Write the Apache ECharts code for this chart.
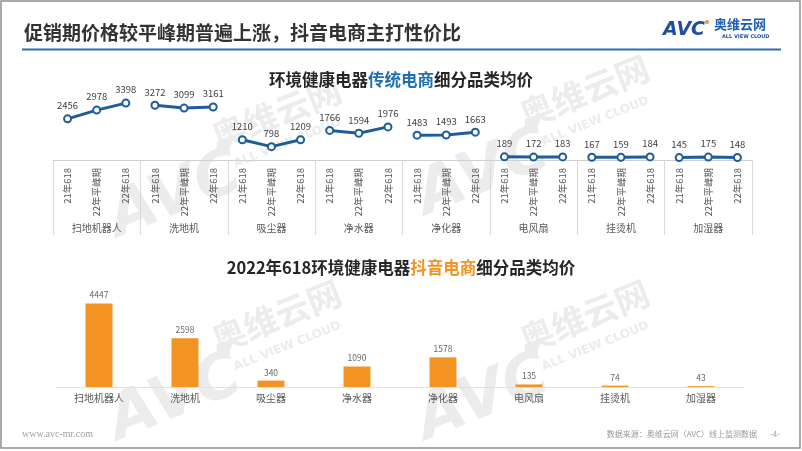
<!DOCTYPE html>
<html>
<head>
<meta charset="utf-8">
<script src="https://cdn.jsdelivr.net/npm/echarts@6/dist/echarts.min.js"></script>
<style>
html,body{margin:0;padding:0;background:#fff;}
#c{width:802px;height:451px;}
</style>
</head>
<body>
<div id="c"></div>
<script>
const groups = ['扫地机器人','洗地机','吸尘器','净水器','净化器','电风扇','挂烫机','加湿器'];
const periods = ['21年618','22年平峰期','22年618'];
const tradValues = [
  [2456,2978,3398],
  [3272,3099,3161],
  [1210,798,1209],
  [1766,1594,1976],
  [1483,1493,1663],
  [189,172,183],
  [167,159,184],
  [145,175,148]
];
const douyinValues = [4447,2598,340,1090,1578,135,74,43];

const FONT = '"Noto Sans CJK SC","Noto Sans",sans-serif';
const BLUE = '#1f5c9a';
const ORANGE = '#f39422';

const periodCats = [];
groups.forEach(() => periods.forEach(p => periodCats.push(p)));

const lineSeries = tradValues.map((vals, g) => ({
  type: 'line',
  xAxisIndex: 0, yAxisIndex: 0,
  data: vals.map((v, i) => [g * periods.length + i, v]),
  symbol: 'emptyCircle',
  symbolSize: 7,
  lineStyle: {color: BLUE, width: 3},
  itemStyle: {color: BLUE, borderWidth: 2},
  label: {show: true, position: 'top', distance: 4, color: '#404040', fontSize: 9.5, fontFamily: FONT},
  z: 3
}));

function watermark(x, y) {
  const c = '#ececec';
  return {
    type: 'group', x: x, y: y, rotation: 0.38, z: 0, silent: true,
    children: [
      {type: 'text', x: 0, y: 0, style: {text: 'AVC', font: 'italic bold 62px "DejaVu Sans"', fill: c, textVerticalAlign: 'middle'}},
      {type: 'circle', shape: {cx: 132, cy: -30, r: 7}, style: {fill: c}},
      {type: 'text', x: 125, y: -40, style: {text: '奥维云网', font: 'bold 34px ' + FONT, fill: c, textVerticalAlign: 'middle'}},
      {type: 'text', x: 135, y: -8, style: {text: 'ALL VIEW CLOUD', font: 'bold 12px "DejaVu Sans"', fill: c, textVerticalAlign: 'middle'}}
    ]
  };
}

const option = {
  animation: false,
  backgroundColor: '#ffffff',
  title: [
    {
      text: '{a|环境健康电器}{b|传统电商}{a|细分品类均价}',
      left: 'center', top: 66,
      textStyle: {rich: {
        a: {fontSize: 16.5, fontWeight: 'bold', color: '#262626', fontFamily: FONT},
        b: {fontSize: 16.5, fontWeight: 'bold', color: '#1f6fb4', fontFamily: FONT}
      }}
    },
    {
      text: '{a|2022年618环境健康电器}{b|抖音电商}{a|细分品类均价}',
      left: 'center', top: 254,
      textStyle: {rich: {
        a: {fontSize: 16.5, fontWeight: 'bold', color: '#262626', fontFamily: FONT},
        b: {fontSize: 16.5, fontWeight: 'bold', color: ORANGE, fontFamily: FONT}
      }}
    }
  ],
  grid: [
    {left: 53, right: 50, top: 93, height: 67},
    {left: 56, right: 58, top: 293, height: 94}
  ],
  xAxis: [
    {
      type: 'category', gridIndex: 0, data: periodCats, position: 'bottom',
      axisLine: {show: true, lineStyle: {color: '#d0d0d0', width: 1}},
      axisTick: {show: false},
      axisLabel: {interval: 0, rotate: 90, fontSize: 9.5, color: '#595959', margin: 8, fontFamily: FONT}
    },
    {
      type: 'category', gridIndex: 0, data: groups, position: 'bottom', offset: 0,
      axisLine: {show: false},
      axisTick: {show: true, length: 75, interval: 0, lineStyle: {color: '#d9d9d9', width: 1}},
      axisLabel: {interval: 0, fontSize: 10, color: '#595959', margin: 63, fontFamily: FONT}
    },
    {
      type: 'category', gridIndex: 1, data: groups,
      axisLine: {show: true, lineStyle: {color: '#e0e0e0', width: 1}},
      axisTick: {show: false},
      axisLabel: {interval: 0, fontSize: 10, color: '#595959', margin: 6, fontFamily: FONT}
    }
  ],
  yAxis: [
    {type: 'value', gridIndex: 0, min: 0, max: 4000, show: false},
    {type: 'value', gridIndex: 1, min: 0, max: 5000, show: false}
  ],
  series: lineSeries.concat([{
    type: 'bar', xAxisIndex: 2, yAxisIndex: 1,
    data: douyinValues,
    barWidth: 27,
    itemStyle: {color: ORANGE},
    label: {show: true, position: 'top', distance: 4, color: '#666666', fontSize: 8.5, fontFamily: FONT},
    z: 3
  }]),
  graphic: [
    watermark(112, 222),
    watermark(420, 200),
    watermark(112, 425),
    watermark(420, 425),
    {type: 'rect', shape: {x: 1, y: 1, width: 799, height: 447}, style: {fill: 'none', stroke: '#8f8f8f', lineWidth: 1.5}, z: 10, silent: true},
    {type: 'text', x: 24, y: 33, style: {text: '促销期价格较平峰期普遍上涨，抖音电商主打性价比', font: 'bold 19px ' + FONT, fill: '#333333', textVerticalAlign: 'middle'}, z: 10},
    {type: 'line', shape: {x1: 22, y1: 49.5, x2: 781, y2: 49.5}, style: {stroke: '#2e6cb4', lineWidth: 2}, z: 10},
    {type: 'text', x: 663, y: 30, style: {text: 'AVC', font: 'italic bold 19px "DejaVu Sans"', fill: '#1f4e9c', textVerticalAlign: 'middle'}, z: 10},
    {type: 'circle', shape: {cx: 707, cy: 22, r: 2}, style: {fill: '#f39422'}, z: 10},
    {type: 'text', x: 714, y: 24, style: {text: '奥维云网', font: 'bold 13px ' + FONT, fill: '#1f5fb0', textVerticalAlign: 'middle'}, z: 10},
    {type: 'text', x: 722, y: 37, style: {text: 'ALL VIEW CLOUD', font: 'bold 5px "DejaVu Sans"', fill: '#1f4e9c', textVerticalAlign: 'middle'}, z: 10},
    {type: 'text', x: 22, y: 434, style: {text: 'www.avc-mr.com', font: '10px "Liberation Serif"', fill: '#a0a0a0', textVerticalAlign: 'middle'}, z: 10},
    {type: 'text', x: 757, y: 434, style: {text: '数据来源：奥维云网（AVC）线上监测数据', font: '8px ' + FONT, fill: '#9a9a9a', textAlign: 'right', textVerticalAlign: 'middle'}, z: 10},
    {type: 'text', x: 775, y: 434, style: {text: '-4-', font: '8px ' + FONT, fill: '#9a9a9a', textAlign: 'center', textVerticalAlign: 'middle'}, z: 10}
  ]
};

const chart = echarts.init(document.getElementById('c'), null, {renderer: 'canvas'});
chart.setOption(option);
</script>
</body>
</html>
